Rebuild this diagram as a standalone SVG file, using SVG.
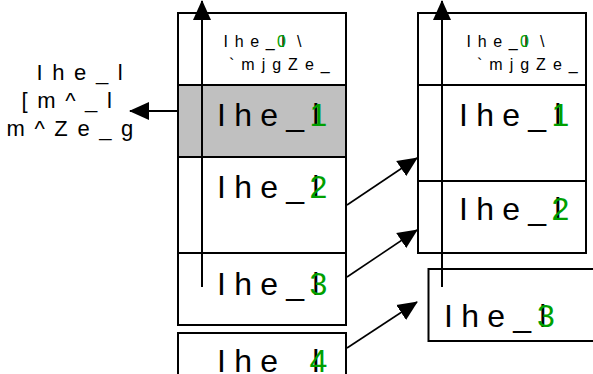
<svg xmlns="http://www.w3.org/2000/svg" width="593" height="374" viewBox="0 0 593 374">
<style>
.box{fill:#fff;stroke:#000;stroke-width:2}
.gray{fill:#c0c0c0;stroke:#000;stroke-width:2}
.big{font-family:"Liberation Sans",Arial,sans-serif;font-size:32px;letter-spacing:8.25px;fill:#000}
.dig{font-family:"Liberation Sans",Arial,sans-serif;font-size:32px;fill:#00a000;text-anchor:middle}
.sm{font-family:"Liberation Sans",Arial,sans-serif;font-size:16px;letter-spacing:7px;fill:#000}
.sm1{font-family:"Liberation Sans",Arial,sans-serif;font-size:16px;letter-spacing:6.6px;fill:#000}
.smd{font-family:"Liberation Sans",Arial,sans-serif;font-size:16px;fill:#00a000;text-anchor:middle}
.lbl{font-family:"Liberation Sans",Arial,sans-serif;font-size:22px;letter-spacing:9.6px;fill:#000}
.ln{fill:none;stroke:#000;stroke-width:2}
.cn{fill:none;stroke:#000;stroke-width:1.6}
</style>
<defs>
<marker id="ah" markerUnits="userSpaceOnUse" markerWidth="20" markerHeight="20" refX="19" refY="9" orient="auto" viewBox="0 0 20 18">
<path d="M0,0 L20,9 L0,18 Z" fill="#000"/>
</marker>
</defs>

<g id="left-header"><rect class="box" x="178" y="13" width="168" height="72"/>
<text class="sm1" x="223.6" y="47">Ihe_l</text><text class="sm" x="297" y="47">\</text><text class="smd" x="281.5" y="47">0</text>
<text class="sm" x="229" y="70">`mjgZe_</text></g>
<g id="left-1"><rect class="gray" x="178" y="85" width="168" height="72"/>
<text class="big" x="217" y="126">Ihe_l</text><text class="dig" x="318.5" y="126">1</text></g>
<g id="left-2"><rect class="box" x="178" y="157" width="168" height="96"/>
<text class="big" x="217" y="198">Ihe_l</text><text class="dig" x="318.5" y="198">2</text></g>
<g id="left-3"><rect class="box" x="178" y="253" width="168" height="72"/>
<text class="big" x="217" y="295">Ihe_l</text><text class="dig" x="318.5" y="295">3</text></g>
<g id="left-4"><rect class="box" x="178" y="333" width="168" height="60"/>
<text class="big" x="217" y="372">Ihe_l</text><text class="dig" x="318.5" y="372">4</text></g>

<g id="right-header"><rect class="box" x="418" y="13" width="168" height="72"/>
<text class="sm1" x="466.6" y="47">Ihe_l</text><text class="sm" x="540" y="47">\</text><text class="smd" x="524.5" y="47">0</text>
<text class="sm" x="477" y="70">`mjgZe_</text></g>
<g id="right-1"><rect class="box" x="418" y="85" width="168" height="96"/>
<text class="big" x="459" y="126">Ihe_l</text><text class="dig" x="560.5" y="126">1</text></g>
<g id="right-2"><rect class="box" x="418" y="181" width="168" height="72"/>
<text class="big" x="459" y="220">Ihe_l</text><text class="dig" x="560.5" y="220">2</text></g>
<g id="right-3"><rect class="box" x="428.5" y="269" width="180" height="72"/>
<text class="big" x="444" y="327">Ihe_l</text><text class="dig" x="546" y="327">3</text></g>

<g id="label"><text class="lbl" x="36.5" y="80">Ihe_l</text>
<text class="lbl" x="21.5" y="108">[m^_l</text>
<text class="lbl" x="6.5" y="136">m^Ze_g</text></g>

<g id="connectors">
<line class="ln" x1="202" y1="287" x2="202" y2="1" marker-end="url(#ah)"/>
<line class="ln" x1="442" y1="287" x2="442" y2="1" marker-end="url(#ah)"/>
<line class="ln" x1="178" y1="111" x2="130" y2="111" marker-end="url(#ah)"/>
<line class="cn" x1="347" y1="205" x2="417" y2="158" marker-end="url(#ah)"/>
<line class="cn" x1="347" y1="277" x2="417" y2="230" marker-end="url(#ah)"/>
<line class="cn" x1="347" y1="348" x2="417" y2="302" marker-end="url(#ah)"/>
</g>
</svg>
